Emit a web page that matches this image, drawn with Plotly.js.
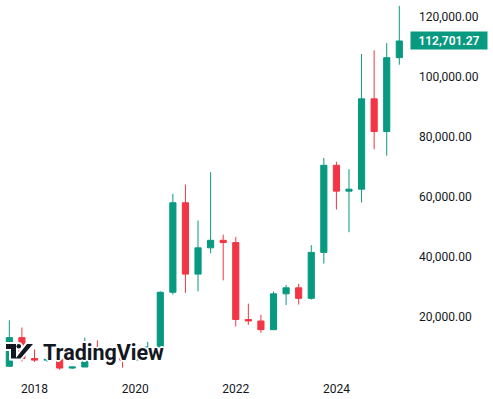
<!DOCTYPE html>
<html>
<head>
<meta charset="utf-8">
<script src="https://cdn.plot.ly/plotly-3.0.1.min.js"></script>
<style>
  html, body { margin: 0; padding: 0; background: #ffffff; }
  #chart { width: 493px; height: 399px; }
</style>
</head>
<body>
<div id="chart"></div>
<script>
// Quarterly BTC candles
const quarters = ['2017-Q4','2018-Q1','2018-Q2','2018-Q3','2018-Q4','2019-Q1','2019-Q2','2019-Q3',
  '2019-Q4','2020-Q1','2020-Q2','2020-Q3','2020-Q4','2021-Q1','2021-Q2','2021-Q3',
  '2021-Q4','2022-Q1','2022-Q2','2022-Q3','2022-Q4','2023-Q1','2023-Q2','2023-Q3',
  '2023-Q4','2024-Q1','2024-Q2','2024-Q3','2024-Q4','2025-Q1','2025-Q2','2025-Q3'];
const openVals  = [4340, 13880, 6930, 6390, 6630, 3740, 4100, 10820,
  8290, 7190, 6420, 9140, 10780, 28990, 58800, 35040,
  43790, 46300, 45540, 19930, 19420, 16540, 28470, 30480,
  26970, 42280, 71290, 62680, 63330, 93430, 82550, 107140];
const highVals  = [19700, 17250, 9950, 8490, 7400, 4140, 13880, 12950,
  10540, 10500, 10430, 12470, 29300, 61790, 64900, 52900,
  69000, 48200, 47450, 25210, 21480, 29190, 31430, 31800,
  44700, 73780, 72500, 70000, 108350, 109590, 111980, 124400];
const lowVals   = [4100, 5900, 5780, 5860, 3150, 3350, 4080, 7700,
  6520, 3860, 6200, 8900, 10400, 28230, 28800, 29300,
  42000, 32950, 17600, 18150, 15480, 16490, 24750, 24900,
  26560, 38550, 56550, 49000, 58860, 76600, 74500, 104800];
const closeVals = [13880, 6930, 6390, 6630, 3740, 4100, 10820, 8290,
  7190, 6420, 9140, 10780, 28990, 58800, 35040, 43790,
  46300, 45540, 19930, 19420, 16540, 28470, 30480, 26970,
  42280, 71290, 62680, 63330, 93430, 82550, 107140, 112701.27];
const yearTickQuarters = ['2018-Q2','2020-Q2','2022-Q2','2024-Q2'];
const yearTickLabels = ['2018','2020','2022','2024'];
const lastPriceLabel = '112,701.27';

const UP = '#089981', DOWN = '#F23645', INK = '#131722';
const xIdx = quarters.map((q, i) => i);

const trace = {
  type: 'candlestick',
  x: xIdx,
  open: openVals, high: highVals, low: lowVals, close: closeVals,
  increasing: { line: { color: UP, width: 1 }, fillcolor: UP },
  decreasing: { line: { color: DOWN, width: 1 }, fillcolor: DOWN },
  whiskerwidth: 0,
  hoverinfo: 'skip',
  showlegend: false
};

// plot-area geometry helpers for the logo (pixels -> paper)
const PW = 410, PH = 377;
const px = v => v / PW;
const py = v => 1 - v / PH;

function rect(x0, y0, x1, y1, color, lw) {
  return { type: 'rect', xref: 'paper', yref: 'paper', x0: px(x0), x1: px(x1), y0: py(y1), y1: py(y0),
    fillcolor: color, line: { color: color, width: lw || 0 }, layer: 'above' };
}
function circ(x0, y0, x1, y1, color, lw) {
  return { type: 'circle', xref: 'paper', yref: 'paper', x0: px(x0), x1: px(x1), y0: py(y1), y1: py(y0),
    fillcolor: color, line: { color: color, width: lw || 0 }, layer: 'above' };
}
function poly(pts, color, lw) {
  const d = 'M' + pts.map(p => px(p[0]) + ',' + py(p[1])).join(' L') + ' Z';
  return { type: 'path', xref: 'paper', yref: 'paper', path: d, fillcolor: color,
    line: { color: color, width: lw || 0 }, layer: 'above' };
}
const slash = [[15.5, 358.5], [20.5, 358.5], [33, 344], [27, 344]];
const shapes = [
  rect(6, 344, 16, 349, '#ffffff', 4), rect(11, 344, 16, 358.5, '#ffffff', 4),
  circ(16.5, 344, 21, 348.5, '#ffffff', 4), poly(slash, '#ffffff', 4),
  rect(6, 344, 16, 349, INK), rect(11, 344, 16, 358.5, INK),
  circ(16.5, 344, 21, 348.5, INK), poly(slash, INK)
];

const halo = '1px 1px 0 #fff, -1px -1px 0 #fff, 1px -1px 0 #fff, -1px 1px 0 #fff, 2px 0 0 #fff, -2px 0 0 #fff, 0 2px 0 #fff, 0 -2px 0 #fff';

const layout = {
  width: 493, height: 399,
  margin: { l: 0, r: 83, t: 0, b: 22 },
  paper_bgcolor: '#ffffff', plot_bgcolor: '#ffffff',
  font: { family: 'Roboto, "Liberation Sans", sans-serif', size: 12, color: INK },
  showlegend: false,
  xaxis: {
    type: 'linear', range: [-0.742, 31.85],
    rangeslider: { visible: false },
    showgrid: false, zeroline: false, showline: false, ticks: '',
    tickvals: yearTickQuarters.map(q => quarters.indexOf(q)),
    ticktext: yearTickLabels,
    ticklabelstandoff: 3,
    tickfont: { size: 12, color: INK },
    fixedrange: true
  },
  yaxis: {
    side: 'right', range: [766, 126350],
    showgrid: false, zeroline: false, showline: false, ticks: '',
    dtick: 20000, tick0: 0, tickformat: ',.2f',
    ticklabelstandoff: 8, ticklabelshift: -2,
    tickfont: { size: 12, color: INK },
    fixedrange: true
  },
  shapes: shapes,
  annotations: [
    {
      xref: 'paper', yref: 'y', x: 1, y: closeVals[closeVals.length - 1],
      xanchor: 'left', yanchor: 'middle',
      text: lastPriceLabel, showarrow: false,
      width: 76, height: 17, borderpad: 0, align: 'center',
      bgcolor: UP, font: { size: 12, color: '#ffffff', weight: 600 }
    },
    {
      xref: 'paper', yref: 'paper', x: px(40.5), y: py(352.5),
      xanchor: 'left', yanchor: 'middle',
      text: 'TradingView', showarrow: false,
      font: { family: 'Roboto, "Liberation Sans", sans-serif', size: 21.5, weight: 700, color: INK, shadow: halo }
    }
  ]
};

Plotly.newPlot('chart', [trace], layout, { displayModeBar: false, staticPlot: true });
</script>
</body>
</html>
